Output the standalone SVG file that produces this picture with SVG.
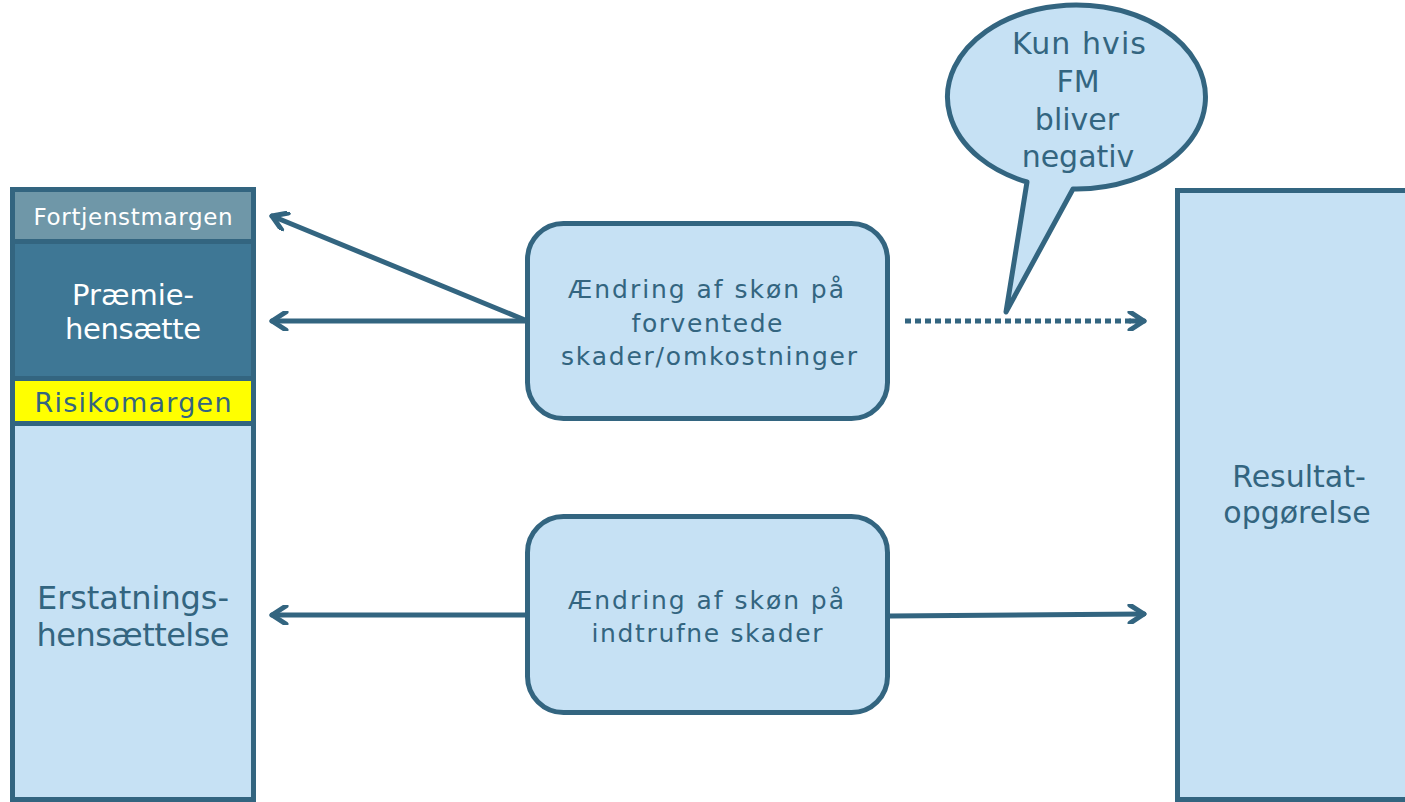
<svg xmlns="http://www.w3.org/2000/svg" width="1405" height="802" viewBox="0 0 1405 802">
<style>
.seg{stroke:#336580;stroke-width:5}
.lt{fill:#c6e1f4}
.t{font-family:"DejaVu Sans",Verdana,sans-serif;text-anchor:middle;fill:#336580}
.w{fill:#ffffff}
.con{fill:none;stroke:#336580;stroke-width:5;stroke-linecap:round;stroke-linejoin:round}
</style>
<defs>
<marker id="ah" viewBox="0 0 20 20" refX="17" refY="10" markerWidth="20" markerHeight="20" markerUnits="userSpaceOnUse" orient="auto-start-reverse">
<path d="M3,1 L17,10 L3,19" fill="none" stroke="#336580" stroke-width="5" stroke-linecap="round" stroke-linejoin="round"/>
</marker>
</defs>
<g id="stack">
<g id="fortjenstmargen">
<rect class="seg" x="12.5" y="189.5" width="241" height="52" fill="#6f97a8"/>
<text class="t w" x="133" y="225" font-size="23" textLength="199" lengthAdjust="spacing">Fortjenstmargen</text>
</g>
<g id="praemie">
<rect class="seg" x="12.5" y="241.5" width="241" height="137" fill="#3e7795"/>
<text class="t w" x="133" y="305" font-size="29" textLength="122" lengthAdjust="spacing">Præmie-</text>
<text class="t w" x="133" y="339" font-size="29" textLength="136" lengthAdjust="spacing">hensætte</text>
</g>
<g id="risikomargen">
<rect class="seg" x="12.5" y="378.5" width="241" height="45" fill="#ffff00"/>
<text class="t" x="133" y="412" font-size="27" textLength="197" lengthAdjust="spacing">Risikomargen</text>
</g>
<g id="erstatning">
<rect class="seg lt" x="12.5" y="423.5" width="241" height="376"/>
<text class="t" x="133" y="609" font-size="32" textLength="192" lengthAdjust="spacing">Erstatnings-</text>
<text class="t" x="133" y="646" font-size="32" textLength="193" lengthAdjust="spacing">hensættelse</text>
</g>
</g>
<g id="box1">
<rect class="seg lt" x="527.5" y="223.5" width="360" height="195" rx="36"/>
<text class="t" x="706" y="298" font-size="25" textLength="276" lengthAdjust="spacing">Ændring af skøn på</text>
<text class="t" x="707" y="332" font-size="25" textLength="151" lengthAdjust="spacing">forventede</text>
<text class="t" x="709" y="365" font-size="25" textLength="296" lengthAdjust="spacing">skader/omkostninger</text>
</g>
<g id="box2">
<rect class="seg lt" x="527.5" y="516.5" width="360" height="196" rx="36"/>
<text class="t" x="706" y="609" font-size="25" textLength="276" lengthAdjust="spacing">Ændring af skøn på</text>
<text class="t" x="707" y="642" font-size="25" textLength="231" lengthAdjust="spacing">indtrufne skader</text>
</g>
<g id="resultat">
<rect class="seg lt" x="1177.5" y="190.5" width="240" height="609"/>
<text class="t" x="1299" y="487" font-size="30">Resultat-</text>
<text class="t" x="1297" y="523" font-size="30">opgørelse</text>
</g>
<g id="bubble">
<path class="seg lt" d="M1027,182 A129,92 0 1 1 1073,189 L1006,312 Z" stroke-linejoin="round"/>
<text class="t" x="1079" y="54" font-size="30" textLength="134" lengthAdjust="spacing">Kun hvis</text>
<text class="t" x="1078" y="92" font-size="30">FM</text>
<text class="t" x="1077" y="130" font-size="30">bliver</text>
<text class="t" x="1078" y="167" font-size="30">negativ</text>
</g>
<g id="connectors">
<line class="con" x1="525" y1="320" x2="272" y2="216" marker-end="url(#ah)"/>
<line class="con" x1="525" y1="321" x2="272" y2="321" marker-end="url(#ah)"/>
<line x1="905" y1="321" x2="1140" y2="321" stroke="#336580" stroke-width="5" stroke-dasharray="6 4"/>
<line class="con" x1="1130" y1="321" x2="1144" y2="321" marker-end="url(#ah)"/>
<line class="con" x1="525" y1="615" x2="272" y2="615" marker-end="url(#ah)"/>
<line class="con" x1="890" y1="616" x2="1144" y2="614" marker-end="url(#ah)"/>
</g>
</svg>
